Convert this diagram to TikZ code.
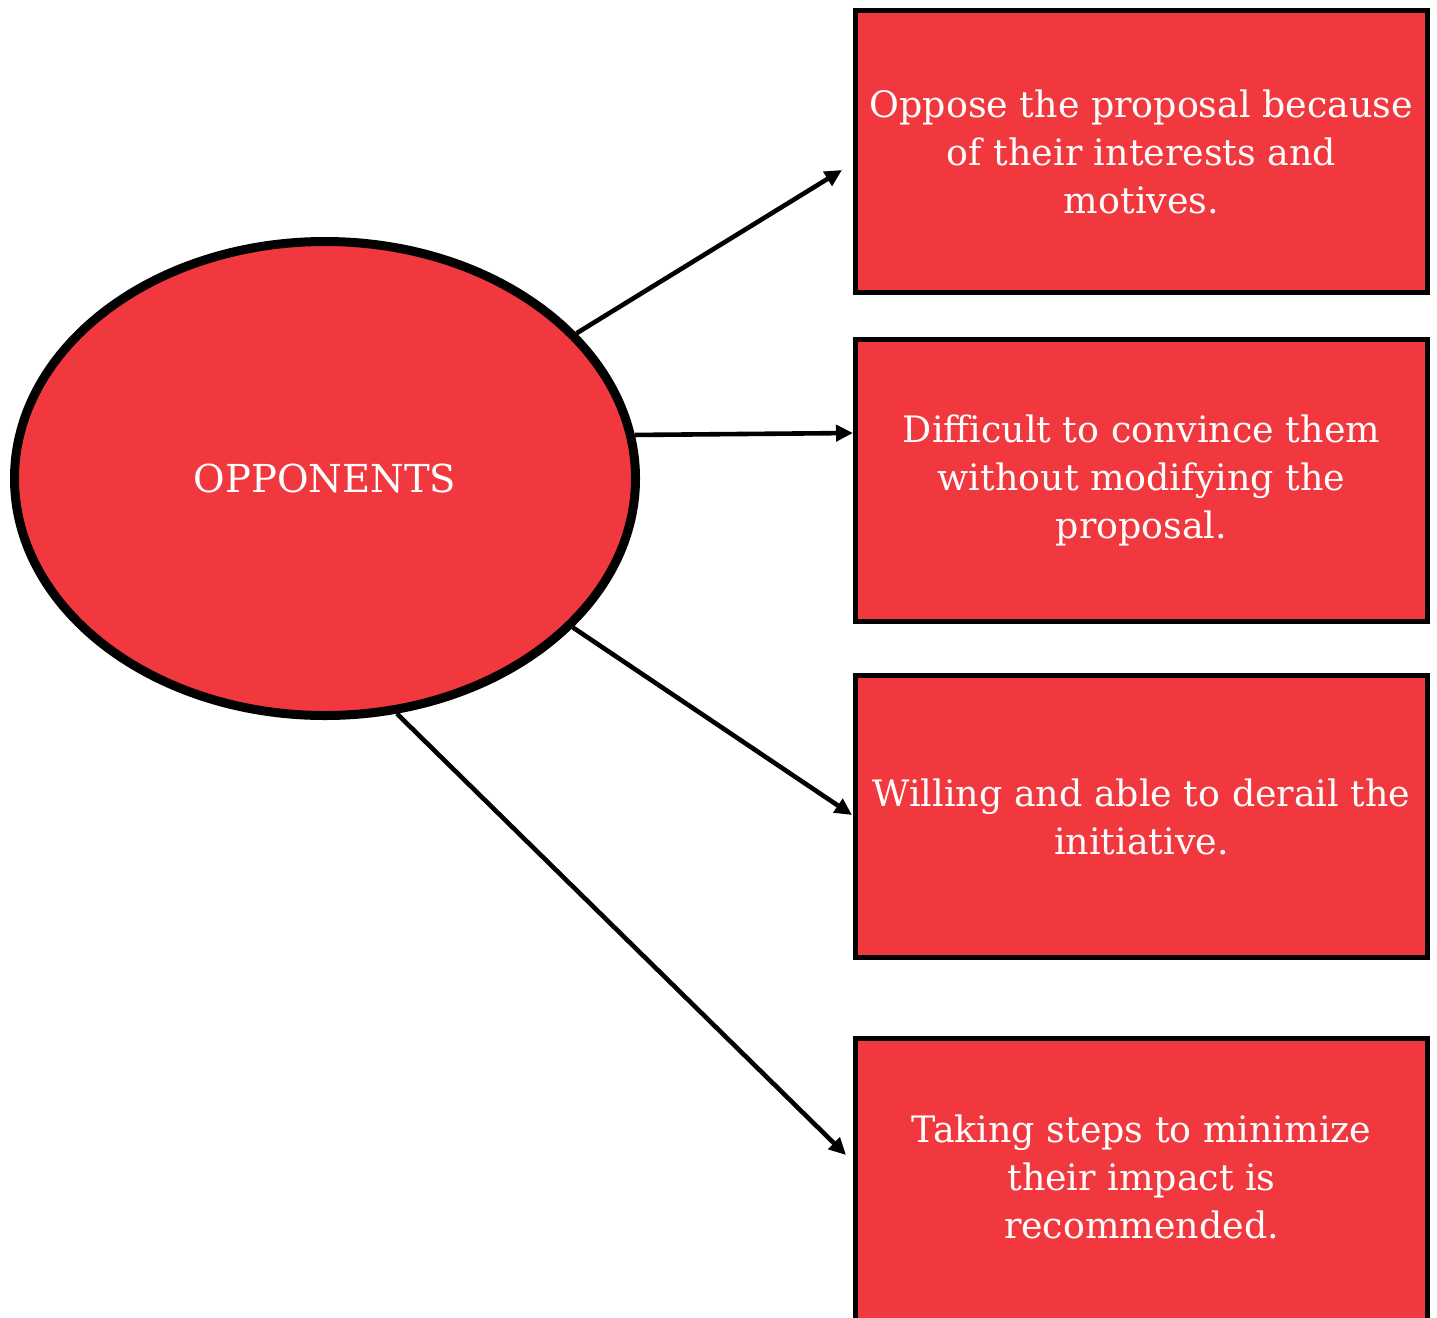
\documentclass[tikz,border=0pt]{standalone}
\usepackage{fontspec}
\setmainfont{DejaVu Serif}
\usetikzlibrary{shapes.geometric,arrows.meta}
\definecolor{boxred}{HTML}{F2383F}
\tikzset{
  labelfont/.style={font=\fontsize{36.4}{48}\selectfont},
  hubfont/.style={font=\fontsize{38.5}{48}\selectfont},
  box/.style={draw=black, line width=5pt, fill=boxred, text=white,
    minimum width=572pt, minimum height=282pt, inner sep=0pt,
    align=center, labelfont},
  boxtext/.style={text=white, inner sep=0pt, align=center, labelfont},
  hub/.style={ellipse, draw=black, line width=9pt, fill=boxred, text=white,
    minimum width=621pt, minimum height=474pt, inner sep=0pt, hubfont},
  link/.style={-{Triangle[length=17pt,width=16pt]}, line width=4.6pt, black}
}
\begin{document}
\begin{tikzpicture}[x=1pt, y=-1pt]
  \clip (0,0) rectangle (1437,1317);
  \fill[white] (0,0) rectangle (1437,1317);

  % central ellipse
  \node[hub] (opp) at (325,478.5) {OPPONENTS};

  % the four statements
  \node[box] (b1) at (1141.5,151.5) {Oppose the proposal because\\of their interests and\\motives.};
  \node[box] (b2) at (1141.5,480.5) {Difficult to convince them\\without modifying the\\proposal.};
  \node[box] (b3) at (1141.5,816.5) {Willing and able to derail the\\initiative.};
  % the last box runs past the lower edge
  \node[box, anchor=north, minimum height=300pt] (b4) at (1141.5,1035.5) {};
  \node[boxtext] (b4t) at (1141.5,1177) {Taking steps to minimize\\their impact is\\recommended.};

  % arrow tips near the boxes
  \coordinate (t1) at (842,170);
  \coordinate (t2) at (853,433);
  \coordinate (t3) at (852,815);
  \coordinate (t4) at (846,1155);

  \draw[link] (opp.30) -- (t1);
  \draw[link] (opp.8.4) -- (t2);
  \draw[link] (opp.-31) -- (t3);
  \draw[link] (opp.-73) -- (t4);
\end{tikzpicture}
\end{document}
